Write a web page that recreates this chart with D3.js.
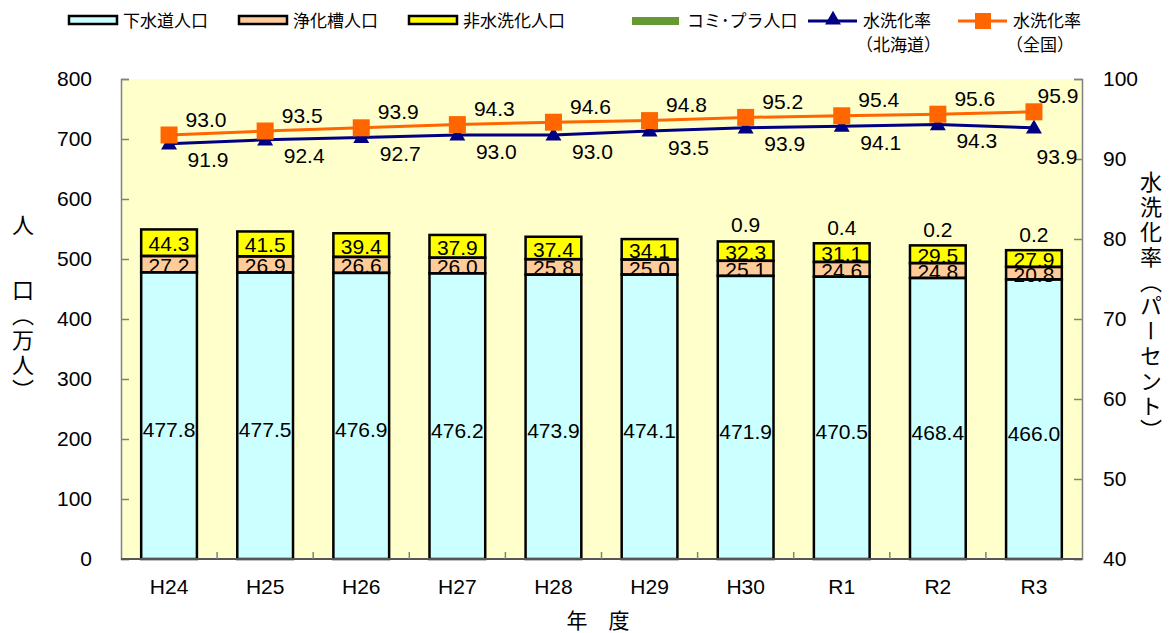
<!DOCTYPE html>
<html>
<head>
<meta charset="utf-8">
<script src="https://cdn.jsdelivr.net/npm/d3@7"></script>
<style>
  html, body { margin: 0; padding: 0; background: #fff; }
  svg { display: block; }
  text { font-family: "Liberation Sans", "Noto Sans CJK JP", sans-serif; fill: #000; }
  .jp { font-family: "Noto Sans CJK JP", sans-serif; }
</style>
</head>
<body>
<div id="app"></div>
<script>
// Data
const years = ["H24", "H25", "H26", "H27", "H28", "H29", "H30", "R1", "R2", "R3"];
const sewerage = [477.8, 477.5, 476.9, 476.2, 473.9, 474.1, 471.9, 470.5, 468.4, 466.0];
const johkaso = [27.2, 26.9, 26.6, 26.0, 25.8, 25.0, 25.1, 24.6, 24.8, 20.8];
const nonFlush = [44.3, 41.5, 39.4, 37.9, 37.4, 34.1, 32.3, 31.1, 29.5, 27.9];
const comiPlant = [0, 0, 0, 0, 0, 0, 0.9, 0.4, 0.2, 0.2];
const rateHokkaido = [91.9, 92.4, 92.7, 93.0, 93.0, 93.5, 93.9, 94.1, 94.3, 93.9];
const rateNational = [93.0, 93.5, 93.9, 94.3, 94.6, 94.8, 95.2, 95.4, 95.6, 95.9];
const leftTicks = [0, 100, 200, 300, 400, 500, 600, 700, 800];
const rightTicks = [40, 50, 60, 70, 80, 90, 100];

const width = 1173, height = 633;
const plot = { left: 121, right: 1082, top: 79, bottom: 559 };
const axisColor = "#808080";
const numSize = 21;

const series = [
  { key: "sewerage", name: "下水道人口", values: sewerage, fill: "#CCFFFF" },
  { key: "johkaso", name: "浄化槽人口", values: johkaso, fill: "#FFCC99" },
  { key: "nonFlush", name: "非水洗化人口", values: nonFlush, fill: "#FFFF00" },
  { key: "comiPlant", name: "コミ･プラ人口", values: comiPlant, fill: "#669933" }
];

const svg = d3.select("#app").append("svg")
  .attr("width", width)
  .attr("height", height);

const x = d3.scaleBand()
  .domain(years)
  .range([plot.left, plot.right])
  .paddingInner(0.42)
  .paddingOuter(0.21);

const y = d3.scaleLinear().domain([0, 800]).range([plot.bottom, plot.top]);
const yRate = d3.scaleLinear().domain([40, 100]).range([plot.bottom, plot.top]);

// plot background
svg.append("rect")
  .attr("x", plot.left)
  .attr("y", plot.top)
  .attr("width", plot.right - plot.left)
  .attr("height", plot.bottom - plot.top)
  .attr("fill", "#FFFFCC");

// stacked bars
const table = years.map((yr, i) => {
  const row = { year: yr };
  series.forEach((s) => (row[s.key] = s.values[i]));
  return row;
});
const stacked = d3.stack().keys(series.map((s) => s.key))(table);

const barGroup = svg.append("g");
stacked.forEach((layer, li) => {
  barGroup.append("g")
    .selectAll("rect")
    .data(layer)
    .join("rect")
    .attr("x", (d) => x(d.data.year))
    .attr("y", (d) => y(d[1]))
    .attr("width", x.bandwidth())
    .attr("height", (d) => y(d[0]) - y(d[1]))
    .attr("fill", series[li].fill);
});

// bar labels
const labelGroup = svg.append("g")
  .attr("font-size", numSize)
  .attr("text-anchor", "middle");

stacked.slice(0, 3).forEach((layer, li) => {
  labelGroup.append("g")
    .selectAll("text")
    .data(layer)
    .join("text")
    .attr("x", (d) => x(d.data.year) + x.bandwidth() / 2)
    .attr("y", (d) => (y(d[0]) + y(d[1])) / 2 + (li === 0 ? 14 : 1))
    .attr("dy", "0.36em")
    .text((d) => d3.format(".1f")(d[1] - d[0]));
});

labelGroup.append("g")
  .selectAll("text")
  .data(stacked[3].filter((d) => d[1] - d[0] > 0))
  .join("text")
  .attr("x", (d) => x(d.data.year) + x.bandwidth() / 2)
  .attr("y", (d) => y(d[1]) - 16)
  .attr("dy", "0.36em")
  .text((d) => d3.format(".1f")(d[1] - d[0]));

// bar outlines drawn over the labels
stacked.slice(0, 3).forEach((layer) => {
  barGroup.append("g")
    .selectAll("rect")
    .data(layer)
    .join("rect")
    .attr("x", (d) => x(d.data.year))
    .attr("y", (d) => y(d[1]))
    .attr("width", x.bandwidth())
    .attr("height", (d) => y(d[0]) - y(d[1]))
    .attr("fill", "none")
    .attr("stroke", "#000")
    .attr("stroke-width", 2.5);
});
svg.node().appendChild(labelGroup.node());

// axes
const leftAxis = svg.append("g")
  .attr("transform", `translate(${plot.left},0)`)
  .call(d3.axisLeft(y).tickValues(leftTicks).tickSize(-8).tickPadding(29));
const rightAxis = svg.append("g")
  .attr("transform", `translate(${plot.right},0)`)
  .call(d3.axisRight(yRate).tickValues(rightTicks).tickSize(-8).tickPadding(21));

[leftAxis, rightAxis].forEach((g) => {
  g.select(".domain").attr("stroke", axisColor).attr("stroke-width", 1.5);
  g.selectAll(".tick line").attr("stroke", axisColor).attr("stroke-width", 1.5);
  g.selectAll(".tick text")
    .attr("font-size", numSize)
    .attr("font-family", "Liberation Sans, sans-serif")
    .attr("fill", "#000");
});

const bottomAxis = svg.append("g")
  .attr("transform", `translate(0,${plot.bottom})`)
  .call(d3.axisBottom(x).tickSize(0).tickPadding(20));
bottomAxis.select(".domain").remove();
bottomAxis.selectAll(".tick text")
  .attr("font-size", numSize)
  .attr("font-family", "Liberation Sans, sans-serif")
  .attr("fill", "#000");

svg.append("line")
  .attr("x1", plot.left).attr("x2", plot.right)
  .attr("y1", plot.bottom).attr("y2", plot.bottom)
  .attr("stroke", "#555").attr("stroke-width", 2);

const gap = x.step() * x.paddingInner() / 2;
svg.append("g")
  .selectAll("line")
  .data(years.slice(1))
  .join("line")
  .attr("x1", (d) => x(d) - gap)
  .attr("x2", (d) => x(d) - gap)
  .attr("y1", plot.bottom)
  .attr("y2", plot.bottom - 7)
  .attr("stroke", axisColor)
  .attr("stroke-width", 1.5);

// rate lines
const cx = (i) => x(years[i]) + x.bandwidth() / 2;
const lineGen = (vals) => d3.line().x((d, i) => cx(i)).y((d) => yRate(d))(vals);

svg.append("path")
  .attr("d", lineGen(rateHokkaido))
  .attr("fill", "none")
  .attr("stroke", "#000080")
  .attr("stroke-width", 3);
svg.append("path")
  .attr("d", lineGen(rateNational))
  .attr("fill", "none")
  .attr("stroke", "#FF6600")
  .attr("stroke-width", 3);

const triangle = d3.symbol().type(d3.symbolTriangle).size(110);
svg.append("g")
  .selectAll("path")
  .data(rateHokkaido)
  .join("path")
  .attr("d", triangle)
  .attr("transform", (d, i) => `translate(${cx(i)},${yRate(d) + 1})`)
  .attr("fill", "#000080");

svg.append("g")
  .selectAll("rect")
  .data(rateNational)
  .join("rect")
  .attr("x", (d, i) => cx(i) - 8.5)
  .attr("y", (d) => yRate(d) - 8.5)
  .attr("width", 17)
  .attr("height", 17)
  .attr("fill", "#FF6600");

const last = years.length - 1;
svg.append("g")
  .attr("font-size", numSize)
  .attr("text-anchor", "middle")
  .selectAll("text")
  .data(rateNational)
  .join("text")
  .attr("x", (d, i) => cx(i) + (i === last ? 24 : 37))
  .attr("y", (d) => yRate(d) - 16)
  .attr("dy", "0.36em")
  .text((d) => d3.format(".1f")(d));

svg.append("g")
  .attr("font-size", numSize)
  .attr("text-anchor", "middle")
  .selectAll("text")
  .data(rateHokkaido)
  .join("text")
  .attr("x", (d, i) => cx(i) + (i === last ? 23 : 39))
  .attr("y", (d, i) => yRate(d) + (i === last ? 29 : 16))
  .attr("dy", "0.36em")
  .text((d) => d3.format(".1f")(d));

// axis titles
svg.append("text")
  .attr("class", "jp")
  .attr("x", 23).attr("y", 225)
  .attr("font-size", 22)
  .attr("text-anchor", "middle")
  .attr("dy", "0.36em")
  .text("人");
svg.append("text")
  .attr("class", "jp")
  .attr("x", 23).attr("y", 279)
  .attr("font-size", 22)
  .attr("writing-mode", "vertical-rl")
  .attr("letter-spacing", 3)
  .text("口（万人）");
svg.append("text")
  .attr("class", "jp")
  .attr("x", 1151).attr("y", 171)
  .attr("font-size", 22)
  .attr("writing-mode", "vertical-rl")
  .attr("letter-spacing", 2.8)
  .text("水洗化率（パーセント）");
svg.append("text")
  .attr("class", "jp")
  .attr("x", 598).attr("y", 620)
  .attr("font-size", 21)
  .attr("text-anchor", "middle")
  .attr("dy", "0.36em")
  .text("年　度");

// legend
const legend = svg.append("g").attr("class", "jp").attr("font-size", 17);
const barLegendX = [68, 238, 408, 632];
series.forEach((s, i) => {
  const g = legend.append("g").attr("transform", `translate(${barLegendX[i]},0)`);
  if (s.key === "comiPlant") {
    g.append("rect").attr("x", 0).attr("y", 17).attr("width", 47).attr("height", 8).attr("fill", s.fill);
  } else {
    g.append("rect").attr("x", 1).attr("y", 16).attr("width", 48).attr("height", 8)
      .attr("fill", s.fill).attr("stroke", "#000").attr("stroke-width", 2.5);
  }
  g.append("text").attr("class", "jp").attr("x", 55).attr("y", 27).text(s.name);
});

const lineLegend = [
  { x: 808, color: "#000080", marker: "tri", sub: "（北海道）" },
  { x: 958, color: "#FF6600", marker: "sq", sub: "（全国）" }
];
lineLegend.forEach((l) => {
  const g = legend.append("g").attr("transform", `translate(${l.x},0)`);
  g.append("line").attr("x1", 0).attr("x2", 49).attr("y1", 21).attr("y2", 21)
    .attr("stroke", l.color).attr("stroke-width", 3);
  if (l.marker === "tri") {
    g.append("path").attr("d", triangle).attr("transform", "translate(25,20)").attr("fill", l.color);
  } else {
    g.append("rect").attr("x", 17).attr("y", 13).attr("width", 16).attr("height", 16).attr("fill", l.color);
  }
  g.append("text").attr("class", "jp").attr("x", 55).attr("y", 27).text("水洗化率");
  g.append("text").attr("class", "jp").attr("x", 48).attr("y", 51).text(l.sub);
});
</script>
</body>
</html>
